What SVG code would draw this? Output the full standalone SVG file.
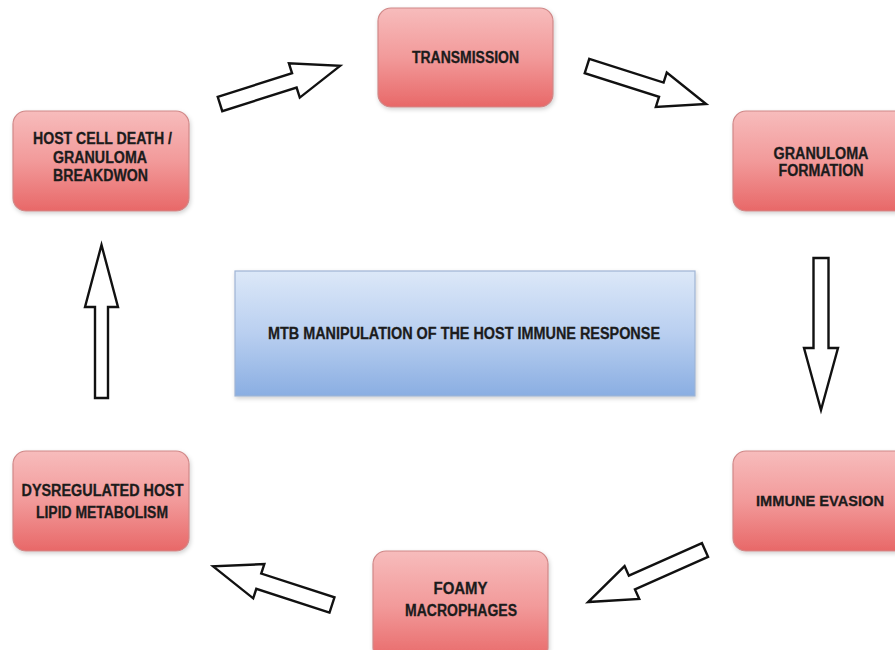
<svg xmlns="http://www.w3.org/2000/svg" width="895" height="650" viewBox="0 0 895 650">
<defs>
<linearGradient id="red" x1="0" y1="0" x2="0" y2="1">
<stop offset="0" stop-color="#f7bcbc"/>
<stop offset="0.5" stop-color="#f29a9a"/>
<stop offset="1" stop-color="#e86868"/>
</linearGradient>
<linearGradient id="blue" x1="0" y1="0" x2="0" y2="1">
<stop offset="0" stop-color="#dce8f8"/>
<stop offset="0.5" stop-color="#b9cff0"/>
<stop offset="1" stop-color="#8aaee2"/>
</linearGradient>
<filter id="sh" x="-10%" y="-10%" width="130%" height="130%">
<feDropShadow dx="1" dy="2" stdDeviation="2" flood-color="#000" flood-opacity="0.18"/>
</filter>
</defs>
<style>
.node{fill:url(#red);stroke:#d08888;stroke-width:1.2;filter:url(#sh)}
.center{fill:url(#blue);stroke:#9fb4d4;stroke-width:1.2;filter:url(#sh)}
text{font-family:"Liberation Sans",Arial,sans-serif;font-weight:bold;font-size:16px;fill:#1c1c1c;text-anchor:middle;stroke:#1c1c1c;stroke-width:0.3}
.arrow{fill:#fff;stroke:#111;stroke-width:2.4;stroke-linejoin:miter}
</style>
<rect width="895" height="650" fill="#fff"/>
<g id="connectors">
<g class="arrow">
<polygon transform="translate(220,104) rotate(-17.6)" points="0,-7.5 78,-7.5 78,-18 126,0 78,18 78,7.5 0,7.5"/>
<polygon transform="translate(587,66) rotate(17.7)" points="0,-7.5 78,-7.5 78,-18 125,0 78,18 78,7.5 0,7.5"/>
<polygon transform="translate(821,258) rotate(90)" points="0,-7.5 90,-7.5 90,-17 152,0 90,17 90,7.5 0,7.5"/>
<polygon transform="translate(705,550) rotate(156)" points="0,-7.5 80,-7.5 80,-18 128,0 80,18 80,7.5 0,7.5"/>
<polygon transform="translate(332,605) rotate(198)" points="0,-8 77,-8 77,-18 125,0 77,18 77,8 0,8"/>
<polygon transform="translate(101.5,398) rotate(-90)" points="0,-6.5 91,-6.5 91,-16.5 153,0 91,16.5 91,6.5 0,6.5"/>
</g>
</g>
<g id="transmission">
<rect class="node" x="378" y="8" width="175" height="99" rx="13"/>
<text x="465.5" y="63" textLength="107" lengthAdjust="spacingAndGlyphs">TRANSMISSION</text>
</g>
<g id="granuloma-formation">
<rect class="node" x="733" y="111" width="180" height="100" rx="13"/>
<text x="821" y="159" textLength="95" lengthAdjust="spacingAndGlyphs">GRANULOMA</text>
<text x="821" y="176" textLength="85" lengthAdjust="spacingAndGlyphs">FORMATION</text>
</g>
<g id="immune-evasion">
<rect class="node" x="733" y="451" width="180" height="100" rx="13"/>
<text x="820" y="506" style="font-size:15px" textLength="128" lengthAdjust="spacingAndGlyphs">IMMUNE EVASION</text>
</g>
<g id="foamy-macrophages">
<rect class="node" x="373" y="551" width="175" height="110" rx="13"/>
<text x="460.5" y="594" textLength="54" lengthAdjust="spacingAndGlyphs">FOAMY</text>
<text x="461" y="616" textLength="112" lengthAdjust="spacingAndGlyphs">MACROPHAGES</text>
</g>
<g id="dysregulated-lipid">
<rect class="node" x="13" y="451" width="176" height="100" rx="13"/>
<text x="102.5" y="496" textLength="162" lengthAdjust="spacingAndGlyphs">DYSREGULATED HOST</text>
<text x="102" y="518" textLength="132" lengthAdjust="spacingAndGlyphs">LIPID METABOLISM</text>
</g>
<g id="host-cell-death">
<rect class="node" x="13" y="111" width="176" height="100" rx="13"/>
<text x="102.5" y="144" textLength="139" lengthAdjust="spacingAndGlyphs">HOST CELL DEATH /</text>
<text x="100" y="163" textLength="94" lengthAdjust="spacingAndGlyphs">GRANULOMA</text>
<text x="100.5" y="181" textLength="95" lengthAdjust="spacingAndGlyphs">BREAKDWON</text>
</g>
<g id="center">
<rect class="center" x="235" y="271" width="460" height="125"/>
<text x="464" y="339" textLength="392" lengthAdjust="spacingAndGlyphs">MTB MANIPULATION OF THE HOST IMMUNE RESPONSE</text>
</g>
</svg>
